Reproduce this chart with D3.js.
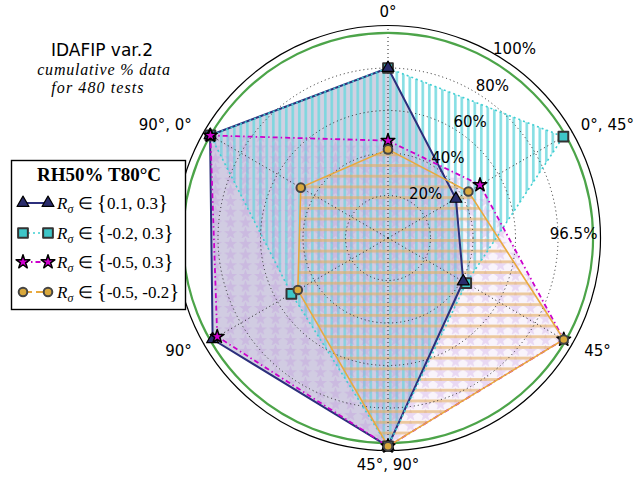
<!DOCTYPE html>
<html>
<head>
<meta charset="utf-8">
<script src="https://cdn.jsdelivr.net/npm/d3@7"></script>
<style>
html,body{margin:0;padding:0;background:#fff;}
svg{display:block;}
</style>
</head>
<body>
<script>
// ---------- data ----------
const categories = ["0°", "0°, 45°", "45°", "45°, 90°", "90°", "90°, 0°"];
const seriesBlue   = [80, 36.9, 40.9, 98, 95.3, 96.7];
const seriesCyan   = [80, 95.3, 42.5, 98, 52.5, 96.5];
const seriesPurple = [45.8, 50, 95.5, 98, 92.8, 96.5];
const seriesOrange = [41.7, 43.7, 95.5, 98, 49, 47.4];
const radialTicks = [20, 40, 60, 80, 100];
const radialTickLabels = ["20%", "40%", "60%", "80%", "100%"];
const thresholdValue = 96.5;
const thresholdLabel = "96.5%";
const legendTitle = "RH50% T80°C";
const legendRanges = ["0.1, 0.3", "-0.2, 0.3", "-0.5, 0.3", "-0.5, -0.2"];
const titleLines = ["IDAFIP var.2", "cumulative % data", "for 480 tests"];

// ---------- setup ----------
const W = 635, H = 478;
const cx = 388, cy = 238, R = 212.5;
const svg = d3.select("body").append("svg").attr("width", W).attr("height", H);
const r = d3.scaleLinear().domain([0, 100]).range([0, R]);
const ang = d3.scalePoint().domain(categories).range([0, 2 * Math.PI * 5 / 6]);
const px = (a, rv) => Math.sin(a) * rv;
const py = (a, rv) => -Math.cos(a) * rv;

const defs = svg.append("defs");
// cyan vertical stripes
const pC = defs.append("pattern").attr("id", "hatchV").attr("patternUnits", "userSpaceOnUse")
  .attr("width", 6.5).attr("height", 10);
pC.append("rect").attr("x", 1).attr("y", 0).attr("width", 2.6).attr("height", 10).attr("fill", "#6fd9de").attr("opacity", 0.85);
// orange horizontal stripes
const pO = defs.append("pattern").attr("id", "hatchH").attr("patternUnits", "userSpaceOnUse")
  .attr("width", 10).attr("height", 10.7);
pO.append("rect").attr("x", 0).attr("y", 1).attr("width", 10).attr("height", 2.8).attr("fill", "#e3ad62").attr("opacity", 0.62);
// purple stars
const pS = defs.append("pattern").attr("id", "hatchS").attr("patternUnits", "userSpaceOnUse")
  .attr("width", 15).attr("height", 10.7);
pS.append("rect").attr("width", 15).attr("height", 10.7).attr("fill", "rgba(205,165,225,0.12)");
pS.append("path").attr("d", d3.symbol().type(d3.symbolStar).size(55)()).attr("transform", "translate(7.5,6)")
  .attr("fill", "rgba(185,135,220,0.26)");

const g = svg.append("g").attr("transform", `translate(${cx},${cy})`);

const radial = d3.lineRadial()
  .angle((d, i) => ang(categories[i]))
  .radius(d => r(d))
  .curve(d3.curveLinearClosed);

// ---------- fills ----------
g.append("path").attr("d", radial(seriesBlue)).attr("fill", "#191970").attr("fill-opacity", 0.2);
g.append("path").attr("d", radial(seriesCyan)).attr("fill", "url(#hatchV)");
g.append("path").attr("d", radial(seriesPurple)).attr("fill", "url(#hatchS)");
g.append("path").attr("d", radial(seriesOrange)).attr("fill", "url(#hatchH)");

// ---------- grid ----------
radialTicks.filter(v => v < 100).forEach(v => {
  g.append("circle").attr("r", r(v)).attr("fill", "none").attr("stroke", "#222")
    .attr("stroke-width", 1).attr("stroke-dasharray", "1,3");
});
categories.forEach(c => {
  const a = ang(c);
  g.append("line").attr("x1", 0).attr("y1", 0).attr("x2", px(a, r(100))).attr("y2", py(a, r(100)))
    .attr("stroke", "#222").attr("stroke-width", 1).attr("stroke-dasharray", "1,3");
});

// threshold circle
g.append("circle").attr("r", r(thresholdValue)).attr("fill", "none").attr("stroke", "#4ca449").attr("stroke-width", 2.2);
// outer frame
g.append("circle").attr("r", r(100)).attr("fill", "none").attr("stroke", "#000").attr("stroke-width", 1.2);

// ---------- lines ----------
const lineStyles = [
  {data: seriesBlue, stroke: "#2c2f7c", width: 2, dash: null},
  {data: seriesCyan, stroke: "#3fcfd2", width: 1.6, dash: "2,3"},
  {data: seriesPurple, stroke: "#cc00cc", width: 1.8, dash: "5,3,1.5,3"},
  {data: seriesOrange, stroke: "#e8a93e", width: 1.6, dash: null}
];
lineStyles.forEach(s => {
  g.append("path").attr("d", radial(s.data)).attr("fill", "none").attr("stroke", s.stroke)
    .attr("stroke-width", s.width).attr("stroke-dasharray", s.dash);
});

// ---------- markers ----------
const markerStyles = {
  cyan:   {type: d3.symbolSquare, size: 95, fill: "#3ec6c8", stroke: "#333", sw: 2},
  blue:   {type: d3.symbolTriangle, size: 62, fill: "#2a2c6c", stroke: "#000", sw: 1.2},
  purple: {type: d3.symbolStar, size: 58, fill: "#d000d0", stroke: "#000", sw: 1.5},
  orange: {type: d3.symbolCircle, size: 58, fill: "#d9a83c", stroke: "#444", sw: 2}
};
function drawMarkers(data, st) {
  data.forEach((v, i) => {
    const a = ang(categories[i]);
    g.append("path").attr("d", d3.symbol().type(st.type).size(st.size)())
      .attr("transform", `translate(${px(a, r(v))},${py(a, r(v))})`)
      .attr("fill", st.fill).attr("stroke", st.stroke).attr("stroke-width", st.sw)
      .attr("stroke-linejoin", "round");
  });
}
drawMarkers(seriesCyan, markerStyles.cyan);
drawMarkers(seriesBlue, markerStyles.blue);
drawMarkers(seriesPurple, markerStyles.purple);
drawMarkers(seriesOrange, markerStyles.orange);

// ---------- angular labels ----------
const labR = 226.5;
categories.forEach(c => {
  const a = ang(c);
  let x = px(a, labR);
  const y = py(a, labR);
  const s = Math.sin(a);
  const anchor = Math.abs(s) < 0.01 ? "middle" : (s > 0 ? "start" : "end");
  const t = g.append("text").attr("x", x).attr("y", y).attr("text-anchor", anchor)
    .attr("dominant-baseline", "central")
    .attr("font-family", "DejaVu Sans").attr("font-size", 15).attr("fill", "#000").text(c);
  if (anchor === "start") {
    const w = t.node().getComputedTextLength();
    const maxX = W - cx - 1 - w;
    if (x > maxX) t.attr("x", maxX);
  }
});

// ---------- radial labels ----------
const rlabAngle = 31.5 * Math.PI / 180;
radialTicks.forEach((v, i) => {
  g.append("text").attr("x", px(rlabAngle, r(v)) + 15.5).attr("y", py(rlabAngle, r(v)) - 7.5)
    .attr("text-anchor", "middle").attr("dominant-baseline", "central")
    .attr("font-family", "DejaVu Sans").attr("font-size", 15).attr("fill", "#000").text(radialTickLabels[i]);
});
g.append("text").attr("x", r(thresholdValue) - 19.5).attr("y", -4)
  .attr("text-anchor", "middle").attr("dominant-baseline", "central")
  .attr("font-family", "DejaVu Sans").attr("font-size", 15).attr("fill", "#000").text(thresholdLabel);

// ---------- title ----------
svg.append("text").attr("x", 102).attr("y", 56).attr("text-anchor", "middle")
  .attr("font-family", "DejaVu Sans").attr("font-size", 17).text(titleLines[0]);
svg.append("text").attr("x", 104).attr("y", 75).attr("text-anchor", "middle")
  .attr("font-family", "Liberation Serif").attr("font-style", "italic").attr("font-size", 16)
  .attr("letter-spacing", 0.8).text(titleLines[1]);
svg.append("text").attr("x", 98).attr("y", 93).attr("text-anchor", "middle")
  .attr("font-family", "Liberation Serif").attr("font-style", "italic").attr("font-size", 16)
  .attr("letter-spacing", 1.1).text(titleLines[2]);

// ---------- legend ----------
const lg = svg.append("g");
lg.append("rect").attr("x", 11.5).attr("y", 160.5).attr("width", 174).attr("height", 149)
  .attr("fill", "#fff").attr("stroke", "#000").attr("stroke-width", 1.4);
lg.append("text").attr("x", 99).attr("y", 181).attr("text-anchor", "middle")
  .attr("font-family", "Liberation Serif").attr("font-weight", "bold").attr("font-size", 19).text(legendTitle);
const legendItems = [
  {st: markerStyles.blue, line: lineStyles[0]},
  {st: markerStyles.cyan, line: lineStyles[1]},
  {st: markerStyles.purple, line: lineStyles[2]},
  {st: markerStyles.orange, line: {stroke: "#e8a93e", width: 1.8, dash: "9,4"}}
];
const rowY = [203, 233, 262, 292];
legendItems.forEach((it, i) => {
  const y = rowY[i];
  lg.append("line").attr("x1", 23).attr("x2", 48).attr("y1", y).attr("y2", y)
    .attr("stroke", it.line.stroke).attr("stroke-width", it.line.width).attr("stroke-dasharray", it.line.dash);
  [23, 48].forEach(x => {
    lg.append("path").attr("d", d3.symbol().type(it.st.type).size(it.st.size)())
      .attr("transform", `translate(${x},${y})`)
      .attr("fill", it.st.fill).attr("stroke", it.st.stroke).attr("stroke-width", it.st.sw)
      .attr("stroke-linejoin", "round");
  });
  const t = lg.append("text").attr("x", 57).attr("y", y + 6)
    .attr("font-family", "Liberation Serif").attr("font-size", 17);
  t.append("tspan").attr("font-style", "italic").text("R");
  t.append("tspan").attr("font-style", "italic").attr("font-size", 12).attr("dy", 4).text("σ");
  t.append("tspan").attr("dy", -4).text(" ∈ ");
  t.append("tspan").attr("font-size", 21).text("{");
  t.append("tspan").text(legendRanges[i]);
  t.append("tspan").attr("font-size", 21).text("}");
});
</script>
</body>
</html>
